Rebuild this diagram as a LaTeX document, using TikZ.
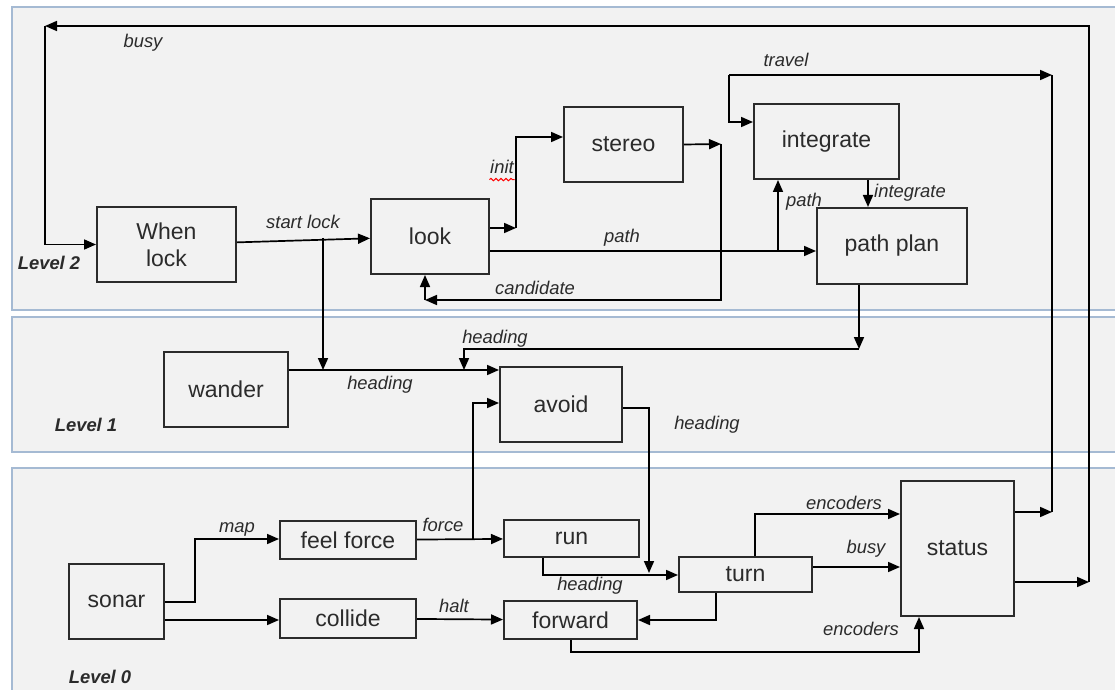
\documentclass[tikz,border=0pt]{standalone}
\usepackage{fontspec}
\setmainfont{Liberation Sans}
\usetikzlibrary{arrows.meta,calc,decorations.pathmorphing}
\definecolor{panelbg}{HTML}{F2F2F2}
\definecolor{panelrim}{HTML}{A5BAD3}
\definecolor{ink}{HTML}{2B2B2B}
\tikzset{
  >={Triangle[length=6pt,width=5pt]},
  box/.style 2 args={draw=ink,line width=1pt,minimum width=#1*0.5pt,minimum height=#2*0.5pt,inner sep=0pt,align=center,font=\fontsize{11.5}{13.5}\selectfont,text=ink},
  lbl/.style={inner sep=0pt,font=\fontsize{9.2}{11}\selectfont\itshape,text=ink},
  lev/.style={inner sep=0pt,font=\fontsize{9.2}{11}\selectfont\bfseries\itshape,text=ink},
  panel/.style={fill=panelbg,draw=panelrim,line width=1.4pt},
  every picture/.style={line width=0.85pt},
}
\begin{document}
\begin{tikzpicture}[x=0.5pt,y=-0.5pt]
\useasboundingbox (0,0) rectangle (1115,690);
\fill[white] (0,0) rectangle (1115,690);
\clip (0,0) rectangle (1115,690);
% levels
\draw[panel] (12,7) rectangle (1130,310);
\draw[panel] (12,317) rectangle (1130,452);
\draw[panel] (12,468) rectangle (1130,705);
\node[lev] (lev2) at (49,263){Level 2}; \node[lev] (lev1) at (86,425){Level 1}; \node[lev] (lev0) at (100,677){Level 0};
% boxes
\node[box={139}{75}] (when) at (166.5,244.5){When\\lock}; \node[box={118}{75}] (look) at (430,236.5){look};
\node[box={119}{75}] (stereo) at (623.5,144.5){stereo}; \node[box={145}{75}] (integrate) at (826.5,141.5){integrate};
\node[box={150}{76}] (pathplan) at (892,246){path plan};
\node[box={124}{75}] (wander) at (226,389.5){wander}; \node[box={122}{75}] (avoid) at (561,404.5){avoid};
\node[box={95}{75}] (sonar) at (116.5,601.5){sonar};
\node[box={136}{38}] (feel) at (348,540){feel force}; \node[box={136}{39}] (collide) at (348,618.5){collide};
\node[box={135}{37}] (run) at (571.5,538.5){run}; \node[box={133}{38}] (forward) at (570.5,620){forward};
\node[box={133}{35}] (turn) at (745.5,574.5){turn}; \node[box={113}{135}] (status) at (957.5,548.5){status};
% corner points
\coordinate (bt1) at (1089,582); \coordinate (bt2) at (45,26);
\coordinate (st1) at (1052,512); \coordinate (tr1) at (729,75); \coordinate (tr2) at (1052,75); \coordinate (tr3) at (729,122);
\coordinate (sl) at (323,238); \coordinate (hd1) at (323,370);
\coordinate (hp) at (859,349); \coordinate (hq) at (464,349); \coordinate (hr) at (464,370);
\coordinate (in1) at (516,228); \coordinate (in2) at (516,137);
\coordinate (so) at (721,144); \coordinate (cd1) at (721,300); \coordinate (cd2) at (425,300);
\coordinate (pa) at (778,251); \coordinate (ig) at (868,190);
\coordinate (av1) at (649,408); \coordinate (av2) at (649,573);
\coordinate (rn) at (543,575); \coordinate (fo) at (473,539); \coordinate (fo2) at (473,403);
\coordinate (mp1) at (195,602); \coordinate (mp2) at (195,539); \coordinate (sc) at (200,620);
\coordinate (tf) at (716,620); \coordinate (te) at (755,514); \coordinate (tb) at (860,567);
\coordinate (fs1) at (571,652); \coordinate (fs2) at (919,652);
% level 2
\draw[->] (status.east |- bt1) -- (bt1); \draw[->] (bt1) |- (bt2); \draw[->] (bt2) |- (when);
\draw[->] (status.east |- st1) -- (st1); \draw (st1) -- (tr2);
\draw[->] (tr1) -- (tr2); \draw[->] (tr1) -- (tr3) -- (integrate.west |- tr3);
\draw[->] (when) -- (look); \draw[->] (sl) -- (hd1);
\draw[->] (look.east |- in1) -- (in1); \draw[->] (in1) -- (in2) -- (stereo.west |- in2);
\draw[->] (stereo.east) -- (so); \draw[->] (so) -- (cd1) -- (cd2); \draw[->] (cd2) -- (look.south -| cd2);
\draw[->] (look.east |- pa) -- (pathplan.west |- pa); \draw[->] (pa) -- (integrate.south -| pa);
\draw[->] (integrate.south -| ig) -- (pathplan.north -| ig);
% level 1
\draw[->] (pathplan.south -| hp) -- (hp); \draw[->] (hp) -- (hq) -- (hr);
\draw[->] (wander.east |- hd1) -- (avoid.west |- hd1);
\draw[->] (avoid.east |- av1) -- (av1) -- (av2);
% level 0
\draw[->] (sonar.east |- mp1) -- (mp1) -- (mp2) -- (feel.west |- mp2);
\draw[->] (sonar.east |- sc) -- (collide.west |- sc);
\draw[->] (feel) -- (run); \draw[->] (fo) -- (fo2) -- (avoid.west |- fo2);
\draw[->] (collide) -- (forward);
\draw[->] (run.south -| rn) -- (rn) -- (turn.west |- rn);
\draw[->] (turn.south -| tf) -- (tf) -- (forward.east |- tf);
\draw[->] (turn.north -| te) -- (te) -- (status.west |- te);
\draw[->] (turn.east |- tb) -- (status.west |- tb);
\draw[->] (forward.south -| fs1) -- (fs1) -- (fs2) -- (status.south -| fs2);
% labels
\node[lbl] (l-busy) at (143,43){busy}; \node[lbl] (l-start) at (303,222){start lock};
\node[lbl] (l-init) at (502,167){init};
\draw[red,line width=0.5pt,decorate,decoration={snake,amplitude=0.6pt,segment length=2.5pt}] ($(l-init.south west)+(0,5)$) -- ($(l-init.south east)+(0,5)$);
\node[lbl] (l-path) at (622,238){path}; \node[lbl] (l-cand) at (535,288){candidate};
\node[lbl] (l-travel) at (786,60){travel}; \node[lbl] (l-integ) at (910,193){integrate};
\node[lbl] (l-path2) at (804,202){path};
\node[lbl] (l-head1) at (495,339){heading}; \node[lbl] (l-head2) at (380,385){heading};
\node[lbl] (l-head3) at (707,425){heading};
\node[lbl] (l-map) at (237,529){map}; \node[lbl] (l-force) at (443,525){force};
\node[lbl] (l-halt) at (454,606){halt}; \node[lbl] (l-head4) at (590,586){heading};
\node[lbl] (l-enc1) at (844,503){encoders}; \node[lbl] (l-busy2) at (866,549){busy};
\node[lbl] (l-enc2) at (861,629){encoders};
\end{tikzpicture}
\end{document}
